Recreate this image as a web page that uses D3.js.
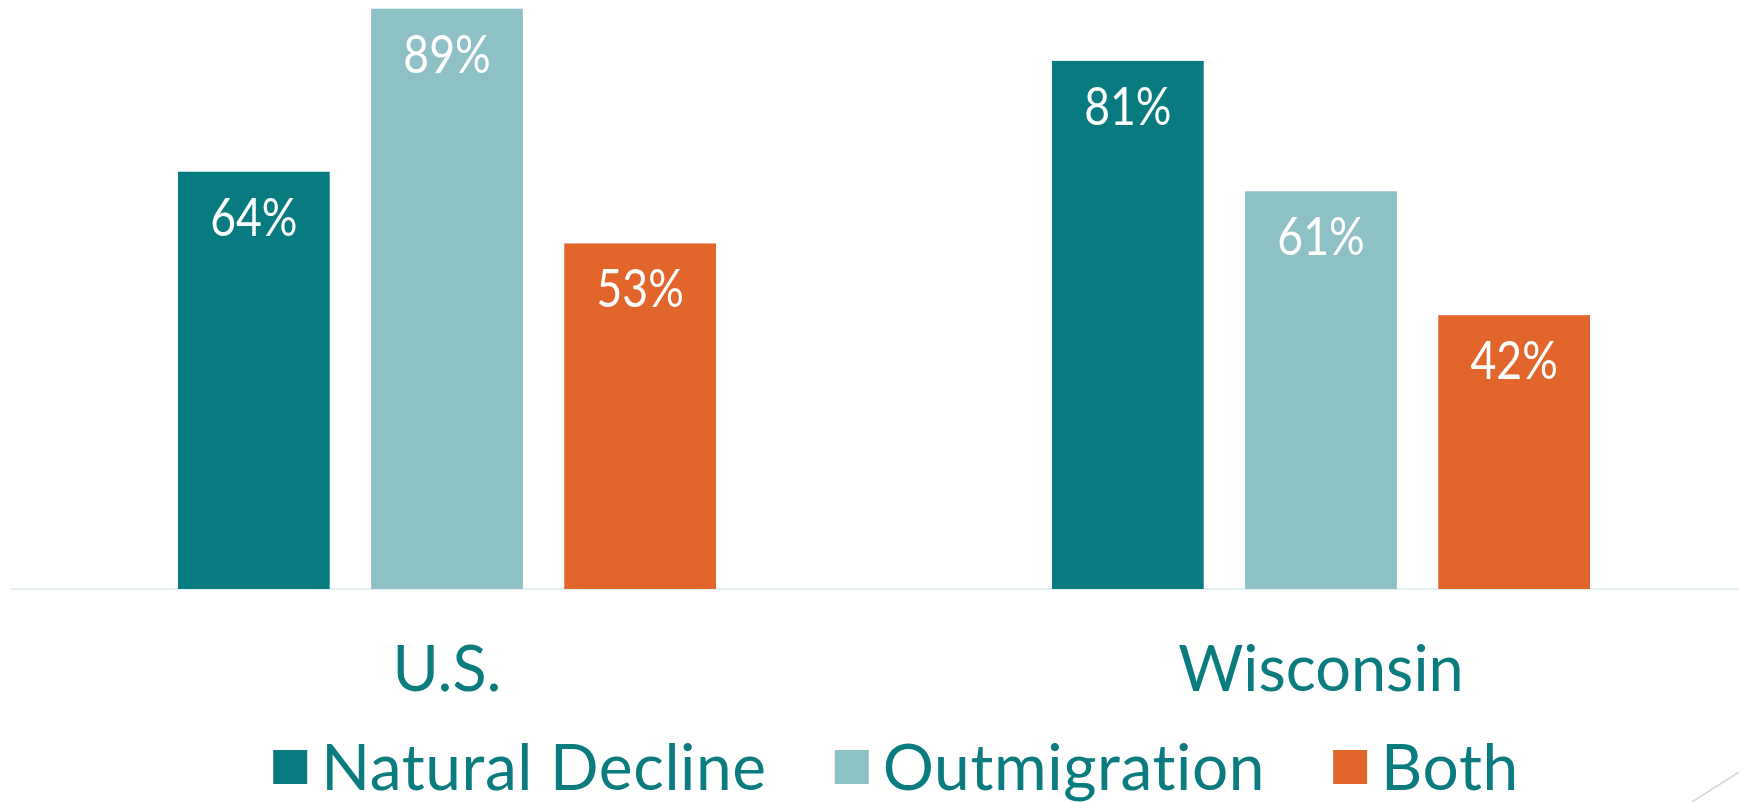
<!DOCTYPE html>
<html>
<head>
<meta charset="utf-8">
<script src="https://cdn.jsdelivr.net/npm/d3@7"></script>
<style>
  html, body { margin: 0; padding: 0; background: #fff; }
  svg { display: block; }
  text { font-variant-ligatures: none; }
</style>
</head>
<body>
<svg id="drawing_region"></svg>
<script>
// data
const categories = ["U.S.", "Wisconsin"];
const seriesNames = ["Natural Decline", "Outmigration", "Both"];
const naturalDecline = [64, 81];
const outmigration = [89, 61];
const both = [53, 42];

const seriesValues = [naturalDecline, outmigration, both];
const colors = ["#077b7f", "#8ec1c5", "#e2652b"];

var config = {
    parent: '#drawing_region',
    width: 1739,
    height: 802
};

const svg = d3.select(config.parent)
    .attr('width', config.width)
    .attr('height', config.height);

const font = "Lato, 'Open Sans', sans-serif";
const textColor = "#0a7b7e";

// table: one row per category, one value per series
const rows = categories.map((c, i) => ({
    cat: c,
    vals: seriesNames.map((s, j) => ({ name: s, value: seriesValues[j][i], color: colors[j] }))
}));

const x0 = d3.scaleBand()
    .domain(categories)
    .range([10, 1758])
    .paddingInner(0.3844)
    .paddingOuter(0.1922);

const x1 = d3.scaleBand()
    .domain(seriesNames)
    .range([0, x0.bandwidth()])
    .paddingInner(0.2145);

const baseY = 589;
const yscale = d3.scaleLinear()
    .domain([0, 100])
    .range([baseY, baseY - 652]);

// baseline
svg.append("line")
    .attr("x1", 11).attr("x2", config.width)
    .attr("y1", baseY).attr("y2", baseY)
    .attr("stroke", "#e3eff1")
    .attr("stroke-width", 2);

const groups = svg.selectAll("g.group")
    .data(rows)
    .enter()
    .append("g")
    .attr("class", "group")
    .attr("transform", d => `translate(${x0(d.cat)},0)`);

groups.selectAll("rect")
    .data(d => d.vals)
    .enter()
    .append("rect")
    .attr("x", d => x1(d.name))
    .attr("y", d => yscale(d.value))
    .attr("width", x1.bandwidth())
    .attr("height", d => baseY - yscale(d.value))
    .attr("fill", d => d.color);

groups.selectAll("text.val")
    .data(d => d.vals)
    .enter()
    .append("text")
    .attr("class", "val")
    .attr("x", d => x1(d.name) + x1.bandwidth() / 2)
    .attr("y", d => yscale(d.value) + 64)
    .attr("text-anchor", "middle")
    .attr("font-family", font)
    .attr("font-size", 53)
    .attr("fill", "#fff")
    .text(d => d.value + "%")
    .each(function () {
        // reference font is narrower than Lato
        const w = this.getComputedTextLength();
        d3.select(this).attr("textLength", w * 0.84).attr("lengthAdjust", "spacingAndGlyphs");
    });

// category labels
svg.selectAll("text.cat")
    .data(categories)
    .enter()
    .append("text")
    .attr("class", "cat")
    .attr("x", d => x0(d) + x0.bandwidth() / 2)
    .attr("y", 691)
    .attr("text-anchor", "middle")
    .attr("font-family", font)
    .attr("font-size", 63)
    .attr("fill", textColor)
    .text(d => d);

// legend (sits at the bottom edge, descenders clipped as in the slide)
const legend = svg.append("g");
const box = 34;
const textGap = 14;
const itemGap = 68;
let lx = 0;
seriesNames.forEach((s, i) => {
    const item = legend.append("g").attr("transform", `translate(${lx},0)`);
    item.append("rect")
        .attr("x", 0).attr("y", 750)
        .attr("width", box).attr("height", box)
        .attr("fill", colors[i]);
    const t = item.append("text")
        .attr("x", box + textGap)
        .attr("y", 790)
        .attr("font-family", font)
        .attr("font-size", 64)
        .attr("letter-spacing", 0.6)
        .attr("fill", textColor)
        .text(s);
    lx += box + textGap + t.node().getComputedTextLength() + itemGap;
});
const legendW = lx - itemGap;
legend.attr("transform", `translate(${896 - legendW / 2},0)`);

// slide decoration in the corner
svg.append("line")
    .attr("x1", 1692).attr("y1", 802)
    .attr("x2", 1739).attr("y2", 772)
    .attr("stroke", "#d6d6d6")
    .attr("stroke-width", 1.5);
</script>
</body>
</html>
